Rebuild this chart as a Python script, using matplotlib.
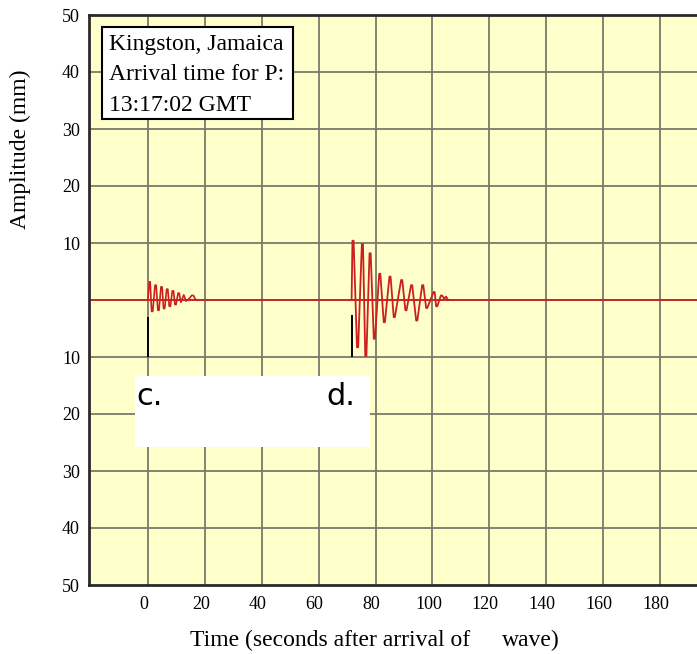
import matplotlib
matplotlib.use("Agg")
import matplotlib.pyplot as plt
from matplotlib.patches import Rectangle
from matplotlib.transforms import ScaledTranslation

# seismogram traces (time in s, amplitude in mm)
c_t = [0.0, 0.5, 0.8, 1.3, 1.7, 2.5, 2.9, 3.5, 3.9, 4.6, 5.0, 5.5, 5.9, 6.6, 7.0,
       7.5, 7.9, 8.6, 9.0, 9.5, 9.9, 10.6, 11.0, 11.6, 12.6, 13.4, 14.6, 15.4,
       16.0, 16.6, 17.2]
c_a = [0, 3.2, 3.2, -2.0, -2.0, 2.6, 2.6, -1.8, -1.8, 2.3, 2.3, -1.5, -1.5, 1.9, 1.9,
       -1.1, -1.1, 1.6, 1.6, -0.8, -0.8, 1.2, 1.2, -0.4, 0.9, -0.2, 0.3, 0.8,
       0.8, 0.2, 0]

d_t = [71.6, 71.9, 72.3, 73.5, 73.9, 75.2, 75.6, 76.4, 76.8, 77.9, 78.3, 79.4, 79.8,
       81.3, 81.7, 82.9, 83.3, 84.9, 85.3, 86.4, 86.8, 89.0, 89.4, 90.5, 90.9,
       92.5, 92.9, 94.3, 94.7, 96.4, 96.8, 97.8, 98.2, 100.4, 100.8, 101.3, 101.7,
       103.0, 103.4, 104.2, 104.8, 105.5]
d_a = [0, 10.4, 10.4, -8.3, -8.3, 9.8, 9.8, -9.8, -9.8, 8.2, 8.2, -6.8, -6.8,
       4.6, 4.6, -3.9, -3.9, 4.1, 4.1, -3.0, -3.0, 3.5, 3.5, -1.8, -1.8,
       2.6, 2.6, -3.6, -3.6, 2.6, 2.6, -1.4, -1.4, 1.4, 1.4, -1.1, -1.1,
       0.8, 0.8, 0.2, 0.6, 0]

# black arrival markers
mark_t = [0, 71.6]
mark_top = [-3.0, -2.7]
mark_bot = [-10, -10]

x_ticks = [0, 20, 40, 60, 80, 100, 120, 140, 160, 180]
y_ticks = [50, 40, 30, 20, 10, -10, -20, -30, -40, -50]
y_labels = ["50", "40", "30", "20", "10", "10", "20", "30", "40", "50"]
grid_y = [40, 30, 20, 10, 0, -10, -20, -30, -40]

info_lines = ["Kingston, Jamaica", "Arrival time for P:", "13:17:02 GMT"]

SERIF = "Liberation Serif"
W, H = 697, 654

fig = plt.figure(figsize=(W / 100, H / 100), dpi=100)
ax = fig.add_axes([89 / W, 69 / H, (W - 89) / W, (585 - 15) / H])
ax.set_facecolor("#ffffcc")
ax.set_xlim(-20.7, 193.0)
ax.set_ylim(-50, 50)

for x in x_ticks:
    ax.axvline(x, color="#7a7a6c", lw=1.3, zorder=1)
for y in grid_y:
    ax.axhline(y, color="#7a7a6c", lw=1.3, zorder=1)

ax.axhline(0, color="#cc1a1a", lw=1.2, zorder=2)
ax.plot(c_t, c_a, color="#cc1f1f", lw=1.2, zorder=3)
ax.plot(d_t, d_a, color="#cc1f1f", lw=1.3, zorder=3)
ax.vlines(mark_t, mark_bot, mark_top, color="black", lw=1.4, zorder=4)

ax.set_xticks(x_ticks)
ax.set_xticklabels([str(v) for v in x_ticks], fontfamily=SERIF, fontsize=13)
ax.set_yticks(y_ticks)
ax.set_yticklabels(y_labels, fontfamily=SERIF, fontsize=13)
ax.tick_params(axis="x", length=0, pad=8)
ax.tick_params(axis="y", length=0, pad=6.5)
for lab in ax.get_xticklabels():
    lab.set_transform(lab.get_transform() + ScaledTranslation(-4 / 100, 0, fig.dpi_scale_trans))

for side in ["left", "bottom", "top"]:
    ax.spines[side].set_color("#2a2a2a")
    ax.spines[side].set_linewidth(2)
ax.spines["right"].set_visible(False)

# info box
fig.add_artist(Rectangle((102 / W, 1 - 119 / H), 191 / W, 92 / H,
                         facecolor="white", edgecolor="black", lw=1.5, zorder=5))
for i, line in enumerate(info_lines):
    fig.text(109 / W, 1 - (50 + 30.5 * i) / H, line, fontfamily=SERIF, fontsize=17,
             va="baseline", ha="left", zorder=6)

# white label box
fig.add_artist(Rectangle((135 / W, 1 - 447 / H), 235 / W, 71 / H,
                         facecolor="white", edgecolor="none", zorder=5))
fig.text(136 / W, 1 - 405 / H, "c.", fontfamily="DejaVu Sans", fontsize=22,
         va="baseline", ha="left", zorder=6)
fig.text(326 / W, 1 - 405 / H, "d.", fontfamily="DejaVu Sans", fontsize=22,
         va="baseline", ha="left", zorder=6)

fig.text(20 / W, 1 - 149 / H, "Amplitude (mm)", fontfamily=SERIF, fontsize=17,
         rotation=90, ha="center", va="center")
fig.text(190 / W, 1 - 646 / H, "Time (seconds after arrival of", fontfamily=SERIF,
         fontsize=17, ha="left", va="baseline")
fig.text(502 / W, 1 - 646 / H, "wave)", fontfamily=SERIF, fontsize=17,
         ha="left", va="baseline")

fig.savefig("out.png", dpi=100, facecolor="white")
